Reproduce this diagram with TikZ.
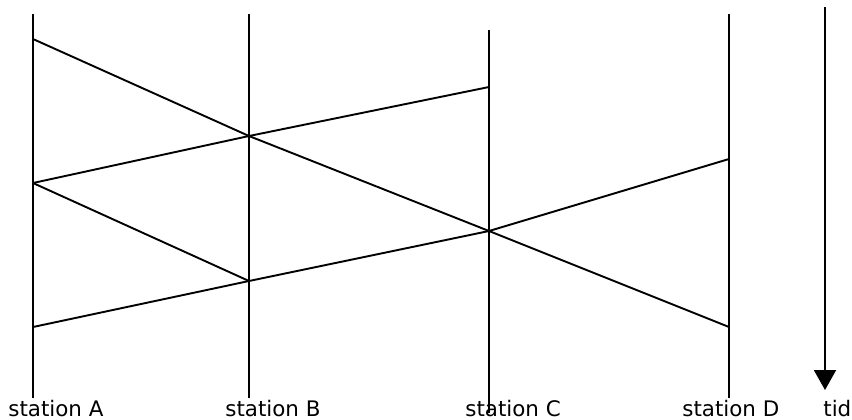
\documentclass[tikz,border=0pt]{standalone}
\usepackage{fontspec}
\setmainfont{DejaVu Sans}
\usepackage{tikz}
\usetikzlibrary{arrows.meta}

\begin{document}
\begin{tikzpicture}[x=0.5pt, y=-0.5pt, line cap=butt,
        station/.style={line width=1pt},
        signal/.style={line width=0.95pt},
        lbl/.style={anchor=base west, inner sep=0pt, font=\fontsize{10.7}{12}\selectfont}]
        \useasboundingbox (0,0) rectangle (852,419);
        \def\xA{33} \def\xB{249} \def\xC{489} \def\xD{729} \def\xT{825}

        % station lines
        \coordinate (Atop) at (\xA,14);  \coordinate (Abot) at (\xA,398);
        \coordinate (Btop) at (\xB,14);  \coordinate (Bbot) at (\xB,398);
        \coordinate (Ctop) at (\xC,30);  \coordinate (Cbot) at (\xC,413);
        \coordinate (Dtop) at (\xD,14);  \coordinate (Dbot) at (\xD,398);
        \draw[station] (Atop) -- (Abot);
        \draw[station] (Btop) -- (Bbot);
        \draw[station] (Ctop) -- (Cbot);
        \draw[station] (Dtop) -- (Dbot);

        % events
        \coordinate (A1) at (\xA,39);
        \coordinate (A2) at (\xA,183);
        \coordinate (A3) at (\xA,327);
        \coordinate (B1) at (\xB,136);
        \coordinate (B2) at (\xB,281);
        \coordinate (C0) at (\xC,87);
        \coordinate (C1) at (\xC,231);
        \coordinate (D1) at (\xD,159);
        \coordinate (D2) at (\xD,327);

        % signals
        \draw[signal] (A1) -- (B1) -- (C1) -- (D2);
        \draw[signal] (A2) -- (B1) -- (C0);
        \draw[signal] (A2) -- (B2);
        \draw[signal] (A3) -- (B2) -- (C1) -- (D1);

        % time axis
        \coordinate (Ttop) at (\xT,7);
        \coordinate (Tbot) at (\xT,390);
        \draw[station, -{Triangle[width=11pt, length=10pt]}] (Ttop) -- (Tbot);

        \node[lbl] (labA) at (8,416) {station A};
        \node[lbl] (labB) at (225,416) {station B};
        \node[lbl] (labC) at (465,416) {station C};
        \node[lbl] (labD) at (682,416) {station D};
        \node[lbl] (labT) at (823,416) {tid};
\end{tikzpicture}
\end{document}
